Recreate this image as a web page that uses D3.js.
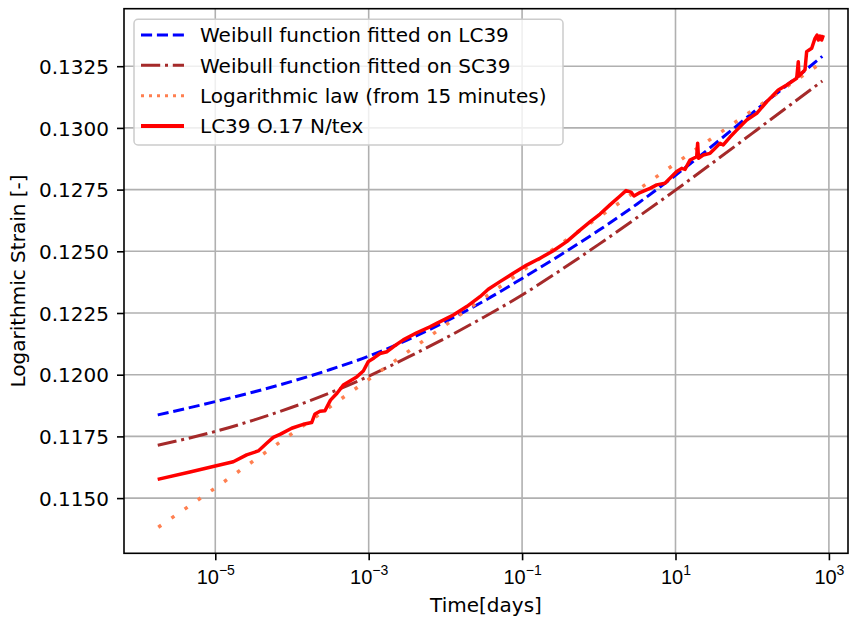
<!DOCTYPE html>
<html>
<head>
<meta charset="utf-8">
<script src="https://cdn.jsdelivr.net/npm/d3@7"></script>
<style>
  body { margin: 0; background: #fff; }
  svg { display: block; font-family: "DejaVu Sans", sans-serif; }
</style>
</head>
<body>
<div id="chart"></div>
<script>
// Time is stored as log10(days), strain as logarithmic strain [-]
const timeTickExp = [-5, -3, -1, 1, 3];
const strainTicks = [0.1150, 0.1175, 0.1200, 0.1225, 0.1250, 0.1275, 0.1300, 0.1325];

// Weibull function fitted on LC39
const fitLCLogT   = [-5.75, -5.0, -4.5, -4.0, -3.5, -3.0, -2.5, -2.0, -1.5, -1.0, -0.5, 0.0, 0.5, 1.0, 1.5, 2.0, 2.5, 2.914];
const fitLCStrain = [0.11837, 0.11891, 0.11930, 0.11973, 0.12021, 0.12075, 0.12140, 0.12215, 0.12298, 0.12390, 0.12485, 0.12585, 0.12692, 0.12808, 0.12932, 0.13060, 0.13185, 0.13290];

// Weibull function fitted on SC39
const fitSCLogT   = [-5.75, -5.0, -4.5, -4.0, -3.5, -3.0, -2.5, -2.0, -1.5, -1.0, -0.5, 0.0, 0.5, 1.0, 1.5, 2.0, 2.5, 2.914];
const fitSCStrain = [0.11714, 0.11770, 0.11816, 0.11868, 0.11927, 0.11994, 0.12069, 0.12148, 0.12233, 0.12323, 0.12423, 0.12528, 0.12637, 0.12748, 0.12862, 0.12978, 0.13094, 0.13190];

// Logarithmic law (from 15 minutes)
const logLawLogT   = [-5.743, -5.0, -4.179, -1.0, 1.0, 2.871];
const logLawStrain = [0.11382, 0.11541, 0.11722, 0.12420, 0.12856, 0.13257];

// LC39 0.17 N/tex measurement
const lc39LogT = [-5.751, -5.330, -5.0, -4.765, -4.591, -4.439, -4.330, -4.244, -4.156, -4.004,
  -3.853, -3.743, -3.700, -3.635, -3.570, -3.498, -3.413, -3.331, -3.244, -3.156,
  -3.070, -3.005, -2.931, -2.853, -2.761, -2.679, -2.549, -2.374, -2.201, -2.113,
  -1.897, -1.722, -1.549, -1.441, -1.288, -1.115, -0.940, -0.767, -0.593, -0.418,
  -0.245, -0.115, 0.016, 0.146, 0.277, 0.355, 0.420, 0.459, 0.537, 0.668,
  0.755, 0.863, 0.928, 1.016, 1.081, 1.124, 1.189, 1.276, 1.289, 1.300,
  1.362, 1.450, 1.493, 1.580, 1.623, 1.711, 1.798, 1.928, 2.059, 2.189,
  2.254, 2.340, 2.450, 2.580, 2.601, 2.610, 2.688, 2.710, 2.776, 2.819,
  2.845, 2.862, 2.884, 2.906, 2.927];
const lc39Strain = [0.11576, 0.11606, 0.11630, 0.11647, 0.11675, 0.11691, 0.11722, 0.11746, 0.11758, 0.11783,
  0.11799, 0.11806, 0.11841, 0.11852, 0.11854, 0.11897, 0.11925, 0.11958, 0.11974, 0.11991,
  0.12015, 0.12053, 0.12068, 0.12086, 0.12093, 0.12113, 0.12141, 0.12170, 0.12194, 0.12208,
  0.12242, 0.12276, 0.12316, 0.12346, 0.12377, 0.12411, 0.12444, 0.12472, 0.12502, 0.12539,
  0.12586, 0.12619, 0.12651, 0.12688, 0.12724, 0.12746, 0.12740, 0.12724, 0.12738, 0.12755,
  0.12769, 0.12776, 0.12796, 0.12823, 0.12836, 0.12832, 0.12870, 0.12883, 0.12938, 0.12877,
  0.12890, 0.12897, 0.12910, 0.12938, 0.12931, 0.12963, 0.12991, 0.13032, 0.13059, 0.13106,
  0.13126, 0.13154, 0.13174, 0.13201, 0.13268, 0.13210, 0.13235, 0.13309, 0.13323, 0.13363,
  0.13376, 0.13356, 0.13372, 0.13356, 0.13376];

const seriesNames = ["Weibull function fitted on LC39", "Weibull function fitted on SC39",
  "Logarithmic law (from 15 minutes)", "LC39 O.17 N/tex"];

const series = [
  { name: seriesNames[0], t: fitLCLogT, s: fitLCStrain, color: "#0000ff", width: 3, dash: "11.1 4.8", legDash: "11.1 4.8", smooth: true },
  { name: seriesNames[1], t: fitSCLogT, s: fitSCStrain, color: "#a52a2a", width: 3, dash: "19.2 4.8 3 4.8", legDash: "19.2 4.8 3 4.8", smooth: true },
  { name: seriesNames[2], t: logLawLogT, s: logLawStrain, color: "#ff7f50", width: 3.5, dash: "3.5 12.5", legDash: "3 5", smooth: false },
  { name: seriesNames[3], t: lc39LogT, s: lc39Strain, color: "#ff0000", width: 3.5, dash: null, legDash: null, smooth: false }
];

const W = 851, H = 619;
const margin = { top: 8.7, right: 3, bottom: 65.7, left: 124 };
const w = W - margin.left - margin.right;
const h = H - margin.top - margin.bottom;

const svg = d3.select("#chart").append("svg")
  .attr("width", W).attr("height", H);

const g = svg.append("g").attr("transform", `translate(${margin.left},${margin.top})`);

const x = d3.scaleLog().domain([Math.pow(10, -6.190), Math.pow(10, 3.249)]).range([0, w]);
const y = d3.scaleLinear().domain([0.112763, 0.134830]).range([h, 0]);

/* grid */
const gridColor = "#b0b0b0";
g.append("g").selectAll("line").data(timeTickExp).join("line")
  .attr("x1", d => x(Math.pow(10, d))).attr("x2", d => x(Math.pow(10, d)))
  .attr("y1", 0).attr("y2", h)
  .attr("stroke", gridColor).attr("stroke-width", 1.6);
g.append("g").selectAll("line").data(strainTicks).join("line")
  .attr("x1", 0).attr("x2", w)
  .attr("y1", d => y(d)).attr("y2", d => y(d))
  .attr("stroke", gridColor).attr("stroke-width", 1.6);

/* lines */
svg.append("defs").append("clipPath").attr("id", "clip")
  .append("rect").attr("width", w).attr("height", h);

const plot = g.append("g").attr("clip-path", "url(#clip)");
series.forEach(sr => {
  const pts = sr.t.map((t, i) => [Math.pow(10, t), sr.s[i]]);
  const line = d3.line()
    .x(d => x(d[0])).y(d => y(d[1]))
    .curve(sr.smooth ? d3.curveMonotoneX : d3.curveLinear);
  plot.append("path")
    .datum(pts)
    .attr("d", line)
    .attr("fill", "none")
    .attr("stroke", sr.color)
    .attr("stroke-width", sr.width)
    .attr("stroke-dasharray", sr.dash)
    .attr("stroke-linejoin", "round");
});

/* axes */
const xAxis = d3.axisBottom(x)
  .tickValues(timeTickExp.map(e => Math.pow(10, e)))
  .tickSize(7).tickPadding(7).tickFormat("");
const gx = g.append("g").attr("transform", `translate(0,${h})`).call(xAxis);
gx.select(".domain").remove();
gx.selectAll(".tick line").attr("stroke", "#000").attr("stroke-width", 1.6);

// tick labels as 10 with superscript exponent
gx.selectAll(".tick text").remove();
gx.selectAll(".tick").each(function(d) {
  const e = Math.round(Math.log10(d));
  const t = d3.select(this).append("text")
    .attr("y", 30.7).attr("fill", "#000")
    .attr("text-anchor", "middle")
    .attr("font-size", 20);
  t.append("tspan").text("10");
  t.append("tspan").attr("dy", -9).attr("font-size", 14)
    .text(e < 0 ? "\u2212" + Math.abs(e) : String(e));
});

const yAxis = d3.axisLeft(y).tickValues(strainTicks)
  .tickSize(7).tickPadding(8).tickFormat(d3.format(".4f"));
const gy = g.append("g").call(yAxis);
gy.select(".domain").remove();
gy.selectAll(".tick line").attr("stroke", "#000").attr("stroke-width", 1.6);
gy.selectAll(".tick text").attr("fill", "#000").attr("font-size", 20)
  .attr("font-family", "DejaVu Sans").attr("dy", "0.36em");

// spines
g.append("rect").attr("width", w).attr("height", h)
  .attr("fill", "none").attr("stroke", "#000").attr("stroke-width", 1.6);

/* axis labels */
svg.append("text")
  .attr("x", margin.left + w / 2).attr("y", 612)
  .attr("text-anchor", "middle").attr("font-size", 20).attr("fill", "#000")
  .text("Time[days]");
svg.append("text")
  .attr("transform", `translate(25,${margin.top + h / 2}) rotate(-90)`)
  .attr("text-anchor", "middle").attr("font-size", 20).attr("fill", "#000")
  .text("Logarithmic Strain [-]");

/* legend */
const leg = svg.append("g");
leg.append("rect")
  .attr("x", 134).attr("y", 19.3).attr("width", 429).attr("height", 125.7)
  .attr("rx", 4).attr("fill", "#fff").attr("fill-opacity", 0.8)
  .attr("stroke", "#cccccc").attr("stroke-width", 1.5);
const rowY = d3.scalePoint().domain(seriesNames).range([35, 126]);
series.forEach(sr => {
  const yy = rowY(sr.name);
  leg.append("line")
    .attr("x1", 141).attr("x2", 184).attr("y1", yy).attr("y2", yy)
    .attr("stroke", sr.color).attr("stroke-width", sr.name === seriesNames[3] ? 4 : 3)
    .attr("stroke-dasharray", sr.legDash);
  leg.append("text")
    .attr("x", 200).attr("y", yy + 7.3)
    .attr("font-size", 20).attr("fill", "#000")
    .text(sr.name);
});
</script>
</body>
</html>
